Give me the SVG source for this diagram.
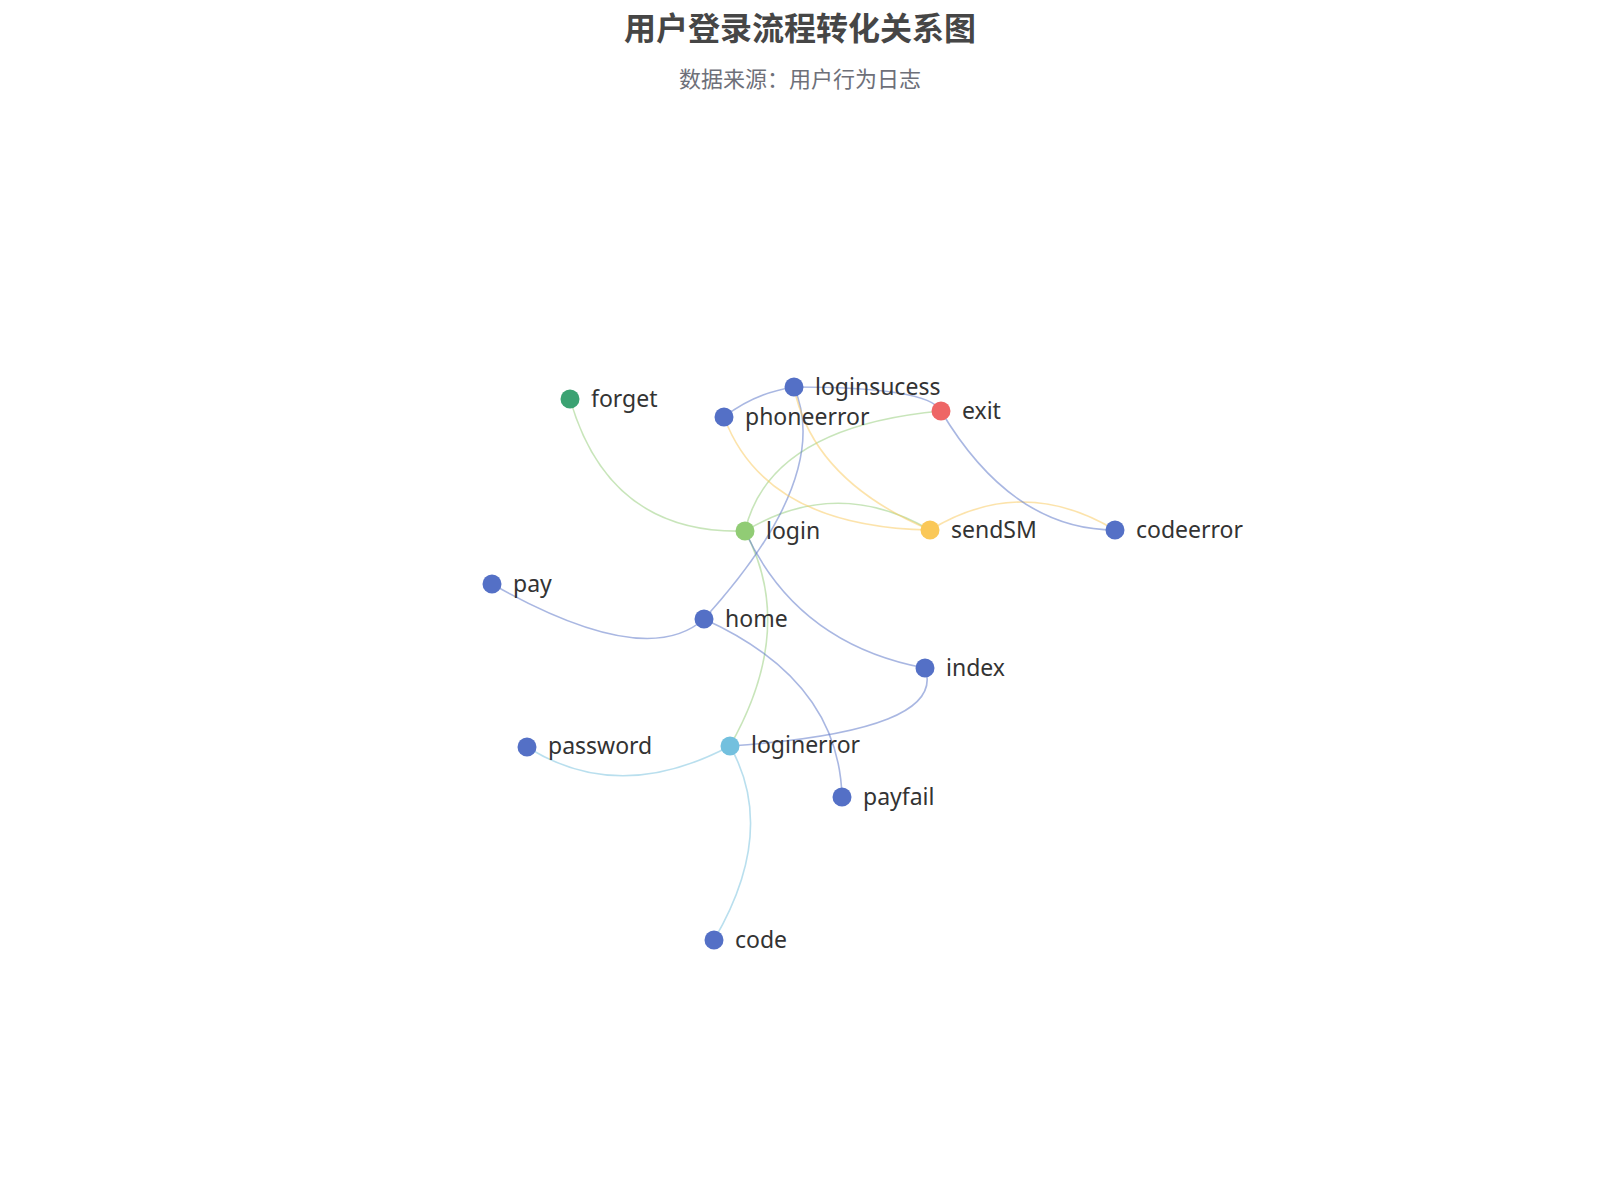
<svg xmlns="http://www.w3.org/2000/svg" width="1600" height="1200" viewBox="0 0 1600 1200">
<style>
.e{fill:none;stroke-width:1.6;stroke-opacity:0.5}
.b{stroke:#5470c6}.g{stroke:#91cc75}.y{stroke:#fac858}.c{stroke:#73c0de}
.l{font-family:"Noto Sans","Noto Sans CJK SC",sans-serif;font-size:23px;fill:#333;dominant-baseline:central}
</style>
<rect width="1600" height="1200" fill="#fff"/>
<text x="800" y="26" text-anchor="middle" dominant-baseline="central" font-family="'Noto Sans CJK SC',sans-serif" font-size="32" font-weight="bold" fill="#464646">用户登录流程转化关系图</text>
<text x="800" y="77" text-anchor="middle" dominant-baseline="central" font-family="'Noto Sans CJK SC',sans-serif" font-size="22" fill="#6e7079">数据来源：用户行为日志</text>
<g id="edges">
<path class="e g" d="M570,399 Q609,535 745,531"/>
<path class="e g" d="M745,531 Q769,427 941,411"/>
<path class="e g" d="M745,531 Q837,476 930,530"/>
<path class="e g" d="M745,531 Q797,628 730,746"/>
<path class="e b" d="M794,387 Q755,393 724,417"/>
<path class="e b" d="M794,387 Q929,387 941,411"/>
<path class="e b" d="M794,387 Q833,477 704,619"/>
<path class="e y" d="M930,530 Q812,480 794,387"/>
<path class="e y" d="M930,530 Q765,527 724,417"/>
<path class="e y" d="M930,530 Q1022,474 1115,530"/>
<path class="e b" d="M941,411 Q1012,530 1115,530"/>
<path class="e b" d="M745,531 Q797,644 925,668"/>
<path class="e b" d="M704,619 Q646,671 492,584"/>
<path class="e b" d="M704,619 Q839,680 842,797"/>
<path class="e b" d="M925,668 Q948,731 730,746"/>
<path class="e c" d="M730,746 Q619,805 527,747"/>
<path class="e c" d="M730,746 Q778,831 714,940"/>
</g>
<g id="forget"><circle cx="570" cy="399" r="9.5" fill="#3ba272"/><text class="l" x="591" y="398">forget</text></g>
<g id="loginsucess"><circle cx="794" cy="387" r="9.5" fill="#5470c6"/><text class="l" x="815" y="386">loginsucess</text></g>
<g id="phoneerror"><circle cx="724" cy="417" r="9.5" fill="#5470c6"/><text class="l" x="745" y="416">phoneerror</text></g>
<g id="exit"><circle cx="941" cy="411" r="9.5" fill="#ee6666"/><text class="l" x="962" y="410">exit</text></g>
<g id="login"><circle cx="745" cy="531" r="9.5" fill="#91cc75"/><text class="l" x="766" y="530">login</text></g>
<g id="sendSM"><circle cx="930" cy="530" r="9.5" fill="#fac858"/><text class="l" x="951" y="529">sendSM</text></g>
<g id="codeerror"><circle cx="1115" cy="530" r="9.5" fill="#5470c6"/><text class="l" x="1136" y="529">codeerror</text></g>
<g id="pay"><circle cx="492" cy="584" r="9.5" fill="#5470c6"/><text class="l" x="513" y="583">pay</text></g>
<g id="home"><circle cx="704" cy="619" r="9.5" fill="#5470c6"/><text class="l" x="725" y="618">home</text></g>
<g id="index"><circle cx="925" cy="668" r="9.5" fill="#5470c6"/><text class="l" x="946" y="667">index</text></g>
<g id="password"><circle cx="527" cy="747" r="9.5" fill="#5470c6"/><text class="l" x="548" y="745">password</text></g>
<g id="loginerror"><circle cx="730" cy="746" r="9.5" fill="#73c0de"/><text class="l" x="751" y="744">loginerror</text></g>
<g id="payfail"><circle cx="842" cy="797" r="9.5" fill="#5470c6"/><text class="l" x="863" y="796">payfail</text></g>
<g id="code"><circle cx="714" cy="940" r="9.5" fill="#5470c6"/><text class="l" x="735" y="939">code</text></g>
</svg>
